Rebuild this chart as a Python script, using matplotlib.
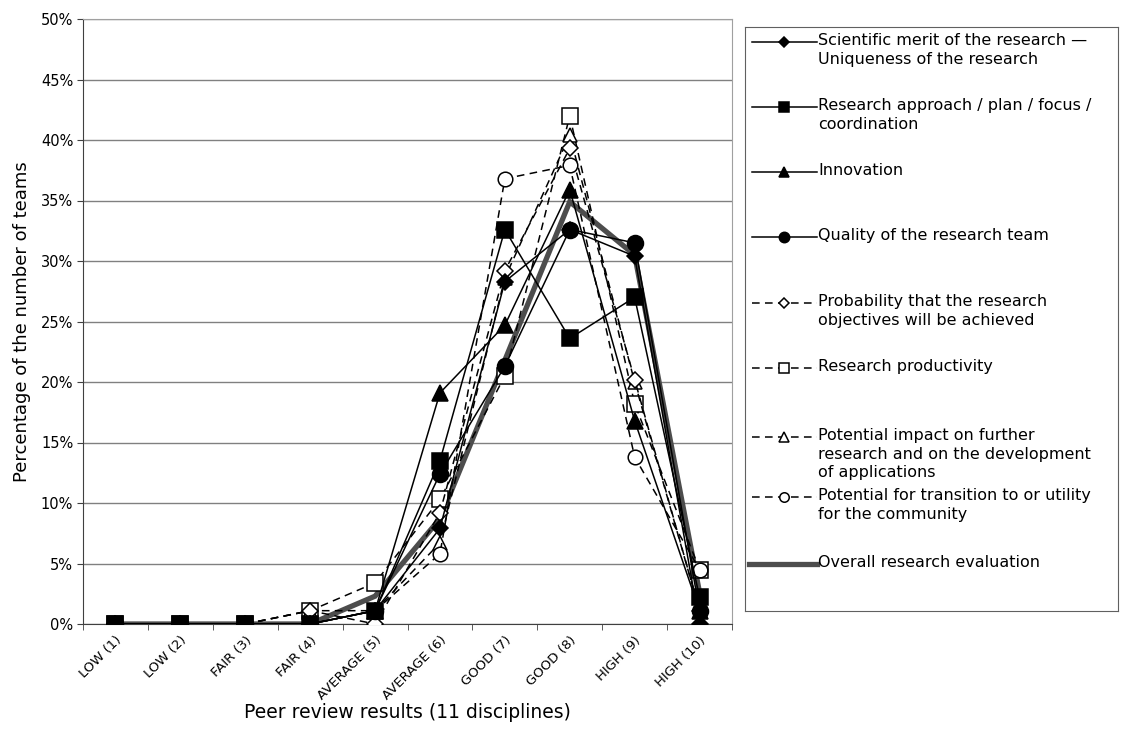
import matplotlib
matplotlib.use('Agg')
import matplotlib.pyplot as plt
import numpy as np

# categories on the x axis
grades = ['LOW (1)', 'LOW (2)', 'FAIR (3)', 'FAIR (4)', 'AVERAGE (5)', 'AVERAGE (6)',
          'GOOD (7)', 'GOOD (8)', 'HIGH (9)', 'HIGH (10)']

# percentage of teams per grade, one list per criterion
scientific = [0, 0, 0, 0, 1.1, 7.9, 28.3, 32.6, 30.4, 0]
approach = [0, 0, 0, 0, 1.1, 13.5, 32.6, 23.6, 27.0, 2.2]
innovation = [0, 0, 0, 0, 1.1, 19.1, 24.7, 35.9, 16.8, 1.1]
quality = [0, 0, 0, 0, 1.1, 12.4, 21.3, 32.6, 31.5, 1.1]
probability = [0, 0, 0, 1.1, 0, 9.2, 29.2, 39.3, 20.2, 1.1]
productivity = [0, 0, 0, 1.1, 3.4, 10.3, 20.5, 42.0, 18.2, 4.5]
impact = [0, 0, 0, 1.1, 1.1, 6.7, 28.6, 40.4, 20.0, 1.1]
transition = [0, 0, 0, 0, 1.1, 5.8, 36.8, 37.9, 13.8, 4.5]
overall = [0, 0, 0, 0, 2.3, 8.7, 21.8, 34.9, 30.5, 2.6]

labels = ['Scientific merit of the research \u2014\nUniqueness of the research',
          'Research approach / plan / focus /\ncoordination',
          'Innovation',
          'Quality of the research team',
          'Probability that the research\nobjectives will be achieved',
          'Research productivity',
          'Potential impact on further\nresearch and on the development\nof applications',
          'Potential for transition to or utility\nfor the community',
          'Overall research evaluation']

W, H = 1121, 749
fig = plt.figure(figsize=(W / 100, H / 100), dpi=100)
ax = fig.add_axes([83 / W, 1 - 624 / H, (732 - 83) / W, (624 - 19) / H])

x = np.arange(len(grades))
dash = (0, (5, 3.5))
# (values, marker, size, filled, linestyle, zorder)
styles = [
    (scientific, 'D', 8, True, '-', 9),
    (approach, 's', 11.5, True, '-', 12),
    (innovation, '^', 11, True, '-', 10),
    (quality, 'o', 11.5, True, '-', 11),
    (probability, 'D', 8, False, dash, 6),
    (productivity, 's', 11, False, dash, 4),
    (impact, '^', 10, False, dash, 5),
    (transition, 'o', 10.5, False, dash, 7),
]

ax.plot(x, overall, color='#4d4d4d', lw=3.8, zorder=3, solid_joinstyle='miter')
for vals, m, ms, filled, ls, z in styles:
    ax.plot(x, vals, color='black', lw=1.1, linestyle=ls, marker=m, markersize=ms,
            markerfacecolor='black' if filled else 'white', markeredgecolor='black',
            markeredgewidth=1.1, zorder=z)

ax.set_xlim(-0.5, len(grades) - 0.5)
ax.set_ylim(0, 50)
ax.set_yticks(np.arange(0, 51, 5))
ax.set_yticklabels([f'{v}%' for v in range(0, 51, 5)], fontsize=10.5)
ax.set_xticks(x)
ax.set_xticklabels(grades, rotation=45, ha='right', rotation_mode='anchor', fontsize=9.5)
ax.set_xticks(np.arange(-0.5, len(grades)), minor=True)
ax.tick_params(axis='x', which='major', length=0, pad=7)
ax.tick_params(axis='x', which='minor', length=4, direction='out', color='#404040')
ax.tick_params(axis='y', length=4, direction='out', color='#404040', pad=3)
ax.yaxis.grid(True, color='#808080', lw=1)
ax.set_axisbelow(True)
for s in ['top', 'right']:
    ax.spines[s].set_color('#a0a0a0')
for s in ['left', 'bottom']:
    ax.spines[s].set_color('#404040')
ax.set_ylabel('Percentage of the number of teams', fontsize=13, labelpad=7)
ax.set_xlabel('Peer review results (11 disciplines)', fontsize=13.5, labelpad=0)

# legend box drawn in its own axes, pixel units from the box top-left corner
lg = fig.add_axes([745 / W, 1 - 611 / H, (1118 - 745) / W, (611 - 27) / H])
lg.set_xlim(0, 373)
lg.set_ylim(584, 0)
lg.set_xticks([])
lg.set_yticks([])
for s in lg.spines.values():
    s.set_color('#606060')
rows = [15, 80, 145, 210, 276, 341, 410, 470, 537]
for (vals, m, ms, filled, ls, z), lab, yy in zip(styles, labels, rows):
    lg.plot([7, 72], [yy, yy], color='black', lw=1.1, linestyle=ls)
    lg.plot([39], [yy], marker=m, markersize=ms * 0.65, color='black',
            markerfacecolor='black' if filled else 'white', markeredgewidth=1.1)
    lg.text(73, yy - 9, lab, fontsize=11.5, va='top', ha='left', linespacing=1.3)
lg.plot([4, 72], [rows[-1], rows[-1]], color='#4d4d4d', lw=3.8)
lg.text(73, rows[-1] - 9, labels[-1], fontsize=11.5, va='top', ha='left')

fig.savefig('out.png', dpi=100)
